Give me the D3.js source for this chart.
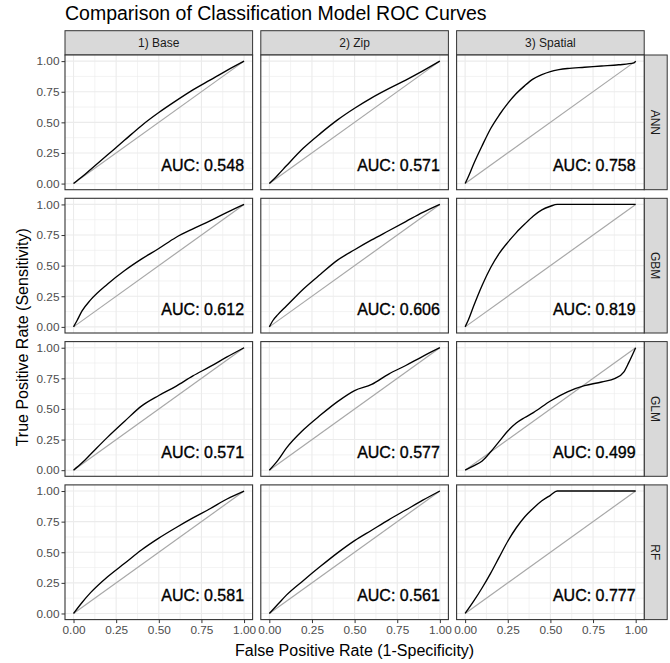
<!DOCTYPE html>
<html>
<head>
<meta charset="utf-8">
<script src="https://cdn.jsdelivr.net/npm/d3@7"></script>
<style>
  html, body { margin: 0; padding: 0; background: #fff; }
  svg { display: block; font-family: "Liberation Sans", Arial, sans-serif; }
</style>
</head>
<body>
<svg id="chart" width="670" height="663"></svg>
<script>
// ---------- data ----------
const models = ["ANN", "GBM", "GLM", "RF"];
const featureSets = ["1) Base", "2) Zip", "3) Spatial"];
const tickValues = [0, 0.25, 0.5, 0.75, 1];
const tickLabels = ["0.00", "0.25", "0.50", "0.75", "1.00"];
const minorTicks = [0.125, 0.375, 0.625, 0.875];

// AUC values, rows = models, cols = feature sets
const aucANN = ["0.548", "0.571", "0.758"];
const aucGBM = ["0.612", "0.606", "0.819"];
const aucGLM = ["0.571", "0.577", "0.499"];
const aucRF  = ["0.581", "0.561", "0.777"];

// ROC curves as [FPR, TPR]
const rocANNBase = [[0,0],[0.05,0.055],[0.1,0.115],[0.2,0.235],[0.3,0.355],[0.4,0.475],[0.5,0.58],[0.6,0.675],[0.7,0.765],[0.8,0.845],[0.9,0.925],[1,1]];
const rocANNZip = [[0,0],[0.05,0.07],[0.1,0.145],[0.2,0.29],[0.3,0.41],[0.4,0.52],[0.5,0.615],[0.6,0.70],[0.7,0.775],[0.8,0.845],[0.9,0.92],[1,1]];
const rocANNSpatial = [[0,0],[0.02,0.06],[0.05,0.16],[0.1,0.31],[0.15,0.45],[0.2,0.56],[0.25,0.655],[0.3,0.735],[0.35,0.80],[0.4,0.855],[0.45,0.89],[0.5,0.915],[0.55,0.93],[0.6,0.94],[0.7,0.95],[0.8,0.96],[0.9,0.97],[0.99,0.985],[1,1]];

const rocGBMBase = [[0,0],[0.02,0.05],[0.05,0.13],[0.1,0.22],[0.2,0.35],[0.3,0.46],[0.4,0.555],[0.5,0.64],[0.6,0.73],[0.7,0.80],[0.8,0.865],[0.9,0.935],[1,1]];
const rocGBMZip = [[0,0],[0.02,0.05],[0.05,0.10],[0.1,0.17],[0.2,0.31],[0.3,0.43],[0.4,0.545],[0.5,0.63],[0.6,0.71],[0.7,0.785],[0.8,0.86],[0.9,0.935],[1,1]];
const rocGBMSpatial = [[0,0],[0.02,0.06],[0.05,0.17],[0.1,0.34],[0.15,0.485],[0.2,0.60],[0.25,0.69],[0.3,0.77],[0.35,0.84],[0.4,0.905],[0.45,0.955],[0.5,0.985],[0.54,1],[1,1]];

const rocGLMBase = [[0,0],[0.05,0.06],[0.1,0.13],[0.2,0.27],[0.3,0.40],[0.4,0.525],[0.5,0.61],[0.6,0.685],[0.7,0.77],[0.8,0.845],[0.9,0.925],[1,1]];
const rocGLMZip = [[0,0],[0.05,0.08],[0.1,0.18],[0.2,0.33],[0.3,0.45],[0.4,0.56],[0.5,0.65],[0.6,0.70],[0.7,0.785],[0.8,0.855],[0.9,0.93],[1,1]];
const rocGLMSpatial = [[0,0],[0.05,0.035],[0.1,0.075],[0.15,0.15],[0.2,0.235],[0.25,0.32],[0.3,0.385],[0.35,0.43],[0.4,0.47],[0.5,0.565],[0.6,0.64],[0.7,0.69],[0.8,0.72],[0.88,0.75],[0.93,0.80],[0.96,0.88],[1,1]];

const rocRFBase = [[0,0],[0.05,0.09],[0.1,0.17],[0.2,0.30],[0.3,0.41],[0.4,0.52],[0.5,0.615],[0.6,0.70],[0.7,0.78],[0.8,0.855],[0.9,0.935],[1,1]];
const rocRFZip = [[0,0],[0.05,0.075],[0.1,0.15],[0.2,0.27],[0.3,0.385],[0.4,0.495],[0.5,0.595],[0.6,0.68],[0.7,0.765],[0.8,0.845],[0.9,0.925],[1,1]];
const rocRFSpatial = [[0,0],[0.05,0.10],[0.1,0.21],[0.15,0.33],[0.2,0.46],[0.25,0.59],[0.3,0.70],[0.35,0.79],[0.4,0.86],[0.45,0.92],[0.5,0.965],[0.54,1],[1,1]];

const diagonal = [[0,0],[1,1]];

// assemble
const rocGrid = [
  [rocANNBase, rocANNZip, rocANNSpatial],
  [rocGBMBase, rocGBMZip, rocGBMSpatial],
  [rocGLMBase, rocGLMZip, rocGLMSpatial],
  [rocRFBase, rocRFZip, rocRFSpatial]
];
const aucGrid = [aucANN, aucGBM, aucGLM, aucRF];

// ---------- layout ----------
const svg = d3.select("#chart");
const leftX = 65, topY = 55, pw = 187.6, ph = 134.7, gapX = 8.2, gapY = 8.6;
const stripH = 24.3, stripW = 23;
const border = "#333333";

const x = d3.scaleLinear().domain([-0.05, 1.05]).range([0, pw]);
const y = d3.scaleLinear().domain([-0.05, 1.05]).range([ph, 0]);
const line = d3.line().x(d => x(d[0])).y(d => y(d[1])).curve(d3.curveMonotoneX);

// title
svg.append("text").attr("x", 65).attr("y", 20)
  .attr("font-size", 19.5).attr("fill", "#000")
  .text("Comparison of Classification Model ROC Curves");

// column strips
featureSets.forEach((fs, c) => {
  const g = svg.append("g").attr("transform", `translate(${leftX + c * (pw + gapX)},${topY - stripH})`);
  g.append("rect").attr("width", pw).attr("height", stripH)
    .attr("fill", "#D9D9D9").attr("stroke", border).attr("stroke-width", 1);
  g.append("text").attr("x", pw / 2).attr("y", stripH / 2).attr("dy", "0.35em")
    .attr("text-anchor", "middle").attr("font-size", 12).attr("fill", "#1A1A1A").text(fs);
});

models.forEach((m, r) => {
  const py = topY + r * (ph + gapY);
  // row strip
  const sg = svg.append("g").attr("transform", `translate(${leftX + 3 * pw + 2 * gapX},${py})`);
  sg.append("rect").attr("width", stripW).attr("height", ph)
    .attr("fill", "#D9D9D9").attr("stroke", border).attr("stroke-width", 1);
  sg.append("text").attr("transform", `translate(${stripW / 2},${ph / 2}) rotate(90)`)
    .attr("dy", "0.35em").attr("text-anchor", "middle")
    .attr("font-size", 12).attr("fill", "#1A1A1A").text(m);

  featureSets.forEach((fs, c) => {
    const px = leftX + c * (pw + gapX);
    const g = svg.append("g").attr("transform", `translate(${px},${py})`);
    g.append("rect").attr("width", pw).attr("height", ph).attr("fill", "#fff");
    // minor grid
    g.selectAll(".mx").data(minorTicks).join("line").attr("class", "mx")
      .attr("x1", d => x(d)).attr("x2", d => x(d)).attr("y1", 0).attr("y2", ph)
      .attr("stroke", "#EBEBEB").attr("stroke-width", 0.6);
    g.selectAll(".my").data(minorTicks).join("line").attr("class", "my")
      .attr("y1", d => y(d)).attr("y2", d => y(d)).attr("x1", 0).attr("x2", pw)
      .attr("stroke", "#EBEBEB").attr("stroke-width", 0.6);
    // major grid
    g.selectAll(".gx").data(tickValues).join("line").attr("class", "gx")
      .attr("x1", d => x(d)).attr("x2", d => x(d)).attr("y1", 0).attr("y2", ph)
      .attr("stroke", "#EBEBEB").attr("stroke-width", 1.1);
    g.selectAll(".gy").data(tickValues).join("line").attr("class", "gy")
      .attr("y1", d => y(d)).attr("y2", d => y(d)).attr("x1", 0).attr("x2", pw)
      .attr("stroke", "#EBEBEB").attr("stroke-width", 1.1);
    // diagonal
    g.append("path").datum(diagonal).attr("d", d3.line().x(d => x(d[0])).y(d => y(d[1])))
      .attr("fill", "none").attr("stroke", "#A8A8A8").attr("stroke-width", 1.2);
    // ROC
    g.append("path").datum(rocGrid[r][c]).attr("d", line)
      .attr("fill", "none").attr("stroke", "#000").attr("stroke-width", 1.35);
    // AUC
    g.append("text").attr("x", x(1)).attr("y", y(0.1))
      .attr("text-anchor", "end").attr("font-size", 16).attr("fill", "#000")
      .attr("stroke", "#000").attr("stroke-width", 0.35)
      .text("AUC: " + aucGrid[r][c]);
    // border
    g.append("rect").attr("width", pw).attr("height", ph)
      .attr("fill", "none").attr("stroke", border).attr("stroke-width", 1.1);

    // y axis on first column
    if (c === 0) {
      const ax = g.append("g").call(d3.axisLeft(y).tickValues(tickValues)
        .tickFormat((d, i) => tickLabels[i]).tickSize(3.5).tickPadding(2));
      ax.select(".domain").remove();
      ax.selectAll("line").attr("stroke", border);
      ax.selectAll("text").attr("font-size", 11.8).attr("fill", "#4D4D4D")
        .attr("font-family", "Liberation Sans, Arial, sans-serif");
    }
    // x axis on last row
    if (r === models.length - 1) {
      const ax = g.append("g").attr("transform", `translate(0,${ph})`)
        .call(d3.axisBottom(x).tickValues(tickValues)
        .tickFormat((d, i) => tickLabels[i]).tickSize(3.5).tickPadding(2.5));
      ax.select(".domain").remove();
      ax.selectAll("line").attr("stroke", border);
      ax.selectAll("text").attr("font-size", 11.8).attr("fill", "#4D4D4D")
        .attr("font-family", "Liberation Sans, Arial, sans-serif");
    }
  });
});

// axis titles
const plotBottom = topY + 4 * ph + 3 * gapY;
svg.append("text").attr("x", leftX + (3 * pw + 2 * gapX) / 2).attr("y", 656)
  .attr("text-anchor", "middle").attr("font-size", 16).attr("fill", "#000")
  .text("False Positive Rate (1-Specificity)");
svg.append("text").attr("transform", `translate(28,${(topY + plotBottom) / 2}) rotate(-90)`)
  .attr("text-anchor", "middle").attr("font-size", 16).attr("fill", "#000")
  .text("True Positive Rate (Sensitivity)");
</script>
</body>
</html>
